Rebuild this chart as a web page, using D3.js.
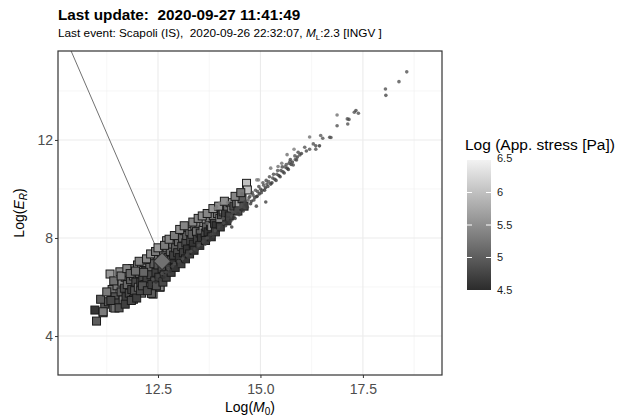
<!DOCTYPE html>
<html>
<head>
<meta charset="utf-8">
<script src="https://cdn.jsdelivr.net/npm/d3@7"></script>
<style>
  body { margin: 0; background: #fff; }
  text { font-family: "Liberation Sans", Arial, sans-serif; }
</style>
</head>
<body>
<div id="chart"></div>
<script>
// big squares: Log(M0), Log(ER), Log(app. stress)
var sqM0 = [10.96, 11.0, 11.16, 11.2, 11.29, 11.33, 11.38, 11.41, 11.45, 11.5, 11.52, 11.57, 11.6, 11.62, 11.65, 11.68, 11.7, 11.72, 11.75, 11.78,
  11.8, 11.83, 11.86, 11.88, 11.9, 11.93, 11.96, 12.0, 12.02, 12.05, 12.08, 12.1, 12.13, 12.16, 12.18, 12.2, 12.23, 12.26, 12.28, 12.3,
  12.33, 12.36, 12.38, 12.4, 12.42, 12.45, 12.48, 12.5, 12.52, 12.55, 12.55, 12.58, 12.6, 12.63, 12.65, 12.68, 12.71, 12.72, 12.75, 12.78,
  12.8, 12.83, 12.86, 12.88, 12.9, 12.93, 12.96, 12.98, 13.0, 13.02, 13.05, 13.08, 13.1, 13.12, 13.15, 13.18, 13.2, 13.22, 13.25, 13.28,
  13.3, 13.33, 13.36, 13.4, 13.44, 13.46, 13.5, 13.53, 13.56, 13.6, 13.62, 13.65, 13.68, 13.72, 13.75, 13.78, 13.81, 13.85, 13.88, 13.92,
  13.95, 14.01, 14.05, 14.09, 14.09, 14.15, 14.2, 14.26, 14.3, 14.35, 14.42, 14.48, 14.55, 14.66, 14.68,
  11.9, 12.1, 12.26, 12.34, 11.45, 11.16, 12.55,
  11.1, 11.25, 11.35, 11.42, 11.55, 11.6, 11.7, 11.74, 11.82, 11.85, 11.95, 11.98, 12.04, 12.07, 12.12, 12.15, 12.22, 12.24, 12.32, 12.35,
  12.44, 12.46, 12.5, 12.62, 12.66, 12.7, 12.77, 12.82, 12.9, 12.92, 13.03, 13.06, 13.14, 13.17, 13.27, 13.35, 13.38, 13.48, 13.52, 13.58,
  13.66, 13.7, 13.8, 13.84, 13.9, 13.98, 14.02, 14.12, 14.18, 14.24, 14.38, 14.45, 14.52, 14.6];
var sqER = [5.06, 4.61, 4.95, 5.3, 5.40, 6.53, 5.9, 5.17, 5.6, 6.05, 5.35, 6.62, 5.8, 6.2, 5.47, 5.95, 6.4, 5.6, 6.1, 6.6,
  5.75, 6.3, 5.9, 6.75, 6.45, 5.85, 6.2, 6.9, 5.99, 6.55, 6.2, 6.85, 6.4, 7.0, 6.1, 6.65, 6.35, 7.1, 5.9, 6.8,
  6.5, 7.2, 5.71, 6.95, 6.25, 6.6, 7.3, 6.9, 6.4, 5.99, 7.51, 7.1, 6.75, 7.35, 6.5, 7.0, 7.89, 7.6, 7.2, 6.85,
  7.45, 7.1, 7.75, 7.3, 6.95, 7.6, 8.05, 7.4, 7.85, 7.2, 8.2, 7.65, 8.0, 7.4, 8.3, 7.8, 8.1, 7.55, 8.45, 8.26,
  7.9, 8.15, 7.75, 8.5, 8.26, 7.95, 8.6, 8.2, 8.0, 8.33, 8.63, 8.2, 8.45, 8.25, 8.75, 8.5, 8.46, 8.9, 8.6, 8.5,
  9.0, 8.8, 8.95, 9.07, 9.14, 9.0, 9.3, 9.44, 9.14, 9.3, 9.42, 9.42, 9.6, 10.23, 9.96,
  5.5, 5.75, 6.01, 5.74, 5.14, 4.99, 6.01,
  5.5, 5.8, 5.45, 6.25, 5.15, 6.45, 5.3, 6.75, 6.55, 5.45, 6.65, 5.55, 7.05, 5.85, 6.05, 6.6, 7.15, 5.85, 7.35, 6.1,
  7.45, 6.05, 7.6, 6.2, 7.7, 6.4, 7.95, 6.6, 8.1, 6.8, 8.35, 6.95, 8.5, 7.15, 7.35, 8.65, 7.5, 8.8, 7.7, 8.9,
  7.9, 9.0, 8.05, 9.2, 8.25, 9.3, 8.45, 9.5, 8.7, 8.9, 9.7, 9.1, 9.85, 9.3];
var sqStress = [4.6, 5.0, 5.1, 4.9, 5.0, 5.6, 5.2, 5.3, 4.9, 5.3, 4.8, 5.5, 5.0, 5.4, 5.3, 4.8, 5.2, 4.7, 5.1, 5.4,
  4.8, 5.0, 4.7, 5.3, 5.2, 4.9, 4.8, 5.4, 5.3, 5.0, 4.7, 5.3, 4.8, 5.5, 4.9, 5.0, 4.7, 5.4, 5.2, 5.1,
  4.8, 5.3, 5.4, 5.0, 4.8, 4.7, 5.3, 4.9, 4.7, 5.5, 5.5, 5.0, 4.8, 5.1, 4.7, 4.8, 5.6, 5.2, 4.9, 4.7,
  5.1, 4.8, 5.2, 4.7, 4.6, 5.0, 5.4, 4.8, 5.1, 4.6, 5.5, 4.9, 5.1, 4.7, 5.4, 4.8, 5.0, 4.6, 5.5, 5.5,
  4.8, 5.0, 4.6, 5.3, 5.2, 4.7, 5.4, 4.9, 4.6, 5.6, 5.6, 4.8, 5.0, 4.6, 5.3, 4.8, 5.5, 5.4, 4.8, 4.6,
  5.2, 5.5, 4.9, 5.6, 5.4, 4.7, 5.2, 5.7, 5.6, 4.8, 5.2, 5.7, 5.0, 6.0, 6.0,
  5.1, 5.2, 5.3, 5.0, 5.2, 5.3, 5.4,
  5.0, 5.3, 4.8, 5.2, 4.9, 5.3, 4.7, 5.4, 5.1, 4.8, 5.2, 4.7, 5.4, 4.8, 4.9, 5.1, 5.4, 4.8, 5.5, 4.7,
  5.3, 4.9, 5.6, 4.8, 5.3, 4.7, 5.4, 4.7, 5.3, 4.6, 5.5, 4.7, 5.4, 4.6, 4.7, 5.4, 4.6, 5.4, 4.7, 5.5,
  4.7, 5.4, 4.6, 5.6, 4.7, 5.5, 4.7, 5.5, 4.6, 4.7, 5.4, 4.8, 5.3, 4.8];

// small dots
var dotM0 = [12.32, 12.38, 12.45, 12.5, 12.55, 12.6, 12.64, 12.7, 12.75, 12.8, 12.85, 12.9, 12.95, 13.0,
  13.05, 13.1, 13.15, 13.2, 13.25, 13.3, 13.35, 13.4, 13.45, 13.5, 13.55, 13.6, 13.65, 13.7, 13.75, 13.8, 13.85, 13.89, 13.9, 13.93, 13.95, 14.0, 14.01,
  14.05, 14.09, 14.1, 14.15, 14.2, 14.25, 14.3, 14.35, 14.4, 14.45, 14.5, 14.55, 14.6, 14.65, 14.7, 14.74, 14.78, 14.82, 14.86, 14.9, 14.91, 14.93, 14.95, 14.97,
  15.0, 15.04, 15.08, 15.12, 15.13, 15.16, 15.2, 15.25, 15.3, 15.35, 15.4, 15.43, 15.45, 15.5, 15.52, 15.55, 15.6, 15.65, 15.7, 15.72, 15.75, 15.8, 15.82, 15.85, 15.88, 15.9, 15.96,
  16.2, 16.2, 16.29, 16.35, 16.35, 16.44, 16.47, 16.52, 16.69, 16.72, 16.87, 16.87, 17.12, 17.16, 17.13, 17.29, 17.33, 17.39, 18.05, 18.06, 18.38, 18.57,
  14.22, 14.28, 14.33, 14.38, 14.43, 14.48, 14.53, 14.58, 14.63, 14.68, 14.72, 14.76, 14.8, 14.84, 14.88, 14.92, 14.96, 15.02, 15.06, 15.1,
  15.14, 15.18, 15.22, 15.28, 15.32, 15.38, 15.42, 15.48, 15.53, 15.58, 15.63, 15.68, 15.73, 15.78, 15.84, 15.92, 16.0, 16.08, 16.12,
  13.5, 13.7, 14.2, 14.55, 15.25, 15.65, 14.3, 14.9];
var dotER = [6.1, 6.3, 6.2, 6.45, 6.3, 6.55, 6.4, 6.6, 6.75, 6.65, 6.85, 6.95, 6.8, 7.05,
  6.95, 7.15, 7.05, 7.3, 7.2, 7.45, 7.35, 7.55, 7.5, 7.7, 7.6, 7.85, 7.75, 8.0, 7.9, 8.15, 8.05, 9.21, 8.3, 9.28, 8.2, 8.45, 9.42,
  8.4, 8.8, 8.6, 8.5, 8.75, 8.65, 8.9, 8.85, 9.1, 9.0, 9.25, 9.15, 9.4, 9.35, 9.55, 9.69, 9.5, 9.75, 9.65, 9.69, 10.37, 9.9, 10.37, 9.8,
  10.0, 9.95, 10.15, 10.05, 9.47, 10.2, 10.3, 10.2, 10.45, 10.4, 10.6, 10.92, 10.55, 10.75, 11.05, 10.7, 10.9, 10.85, 11.05, 11.12, 11.0, 10.98, 11.62, 11.2, 11.18, 11.3, 11.39,
  11.62, 12.12, 11.84, 11.76, 11.62, 11.76, 12.18, 12.07, 12.11, 12.1, 13.02, 12.58, 12.86, 12.84, 12.65, 13.13, 13.2, 13.09, 14.08, 13.82, 14.38, 14.78,
  8.95, 8.7, 9.05, 8.8, 9.2, 8.95, 9.35, 9.1, 9.5, 9.25, 9.65, 9.4, 9.85, 9.55, 9.95, 9.7, 10.1, 9.85, 10.25, 9.95,
  10.35, 10.1, 10.5, 10.25, 10.6, 10.35, 10.75, 10.5, 10.9, 10.65, 11.0, 10.8, 11.2, 11.1, 11.35, 11.5, 11.45, 11.7, 11.55,
  8.25, 8.6, 9.45, 9.8, 10.85, 11.4, 8.45, 9.3];
var dotStress = [4.7, 4.9, 4.6, 4.8, 4.7, 4.9, 4.6, 4.8, 4.9, 4.6, 4.8, 4.9, 4.6, 4.8,
  4.7, 4.9, 4.6, 4.8, 4.7, 4.9, 4.6, 4.8, 4.7, 4.9, 4.6, 4.8, 4.7, 4.9, 4.6, 4.8, 4.7, 5.4, 4.9, 5.3, 4.6, 4.8, 5.4,
  4.7, 5.0, 4.9, 4.6, 4.8, 4.7, 4.9, 4.6, 4.8, 4.7, 4.9, 4.6, 4.8, 4.7, 4.9, 4.8, 4.6, 4.8, 4.7, 4.9, 5.4, 4.8, 5.3, 4.6,
  4.8, 4.7, 4.9, 4.6, 4.7, 4.8, 4.9, 4.6, 4.8, 4.7, 4.9, 5.2, 4.6, 4.8, 5.2, 4.7, 4.9, 4.6, 4.8, 5.0, 4.7, 4.8, 5.3, 4.9, 4.8, 4.7, 4.8,
  4.9, 5.2, 4.9, 4.8, 4.9, 4.6, 5.0, 4.9, 4.8, 4.9, 5.2, 4.9, 4.9, 4.8, 4.9, 4.9, 4.8, 4.9, 4.9, 4.8, 4.9, 4.9,
  4.8, 4.7, 4.9, 4.6, 4.8, 4.7, 4.9, 4.6, 4.8, 4.7, 4.9, 4.6, 4.8, 4.7, 4.9, 4.6, 4.8, 4.7, 4.9, 4.6,
  4.8, 4.7, 4.9, 4.6, 4.8, 4.7, 4.9, 4.6, 4.8, 4.7, 4.9, 4.6, 4.8, 4.7, 4.9, 4.8, 4.7, 4.9, 4.8,
  5.1, 5.2, 5.3, 5.2, 5.2, 5.2, 4.6, 4.7];

// last event
var lastM0 = 12.6, lastER = 7.05, lastStress = 5.2;
var labelM0 = 10.38, labelER = 15.63;

var xTicks = [12.5, 15.0, 17.5];
var yTicks = [4, 8, 12];
var xMinor = [11.25, 13.75, 16.25, 18.75];
var yMinor = [6, 10, 14];
var legendTicks = [4.5, 5, 5.5, 6, 6.5];

var W = 621, H = 418;
var margin = { top: 51, left: 58, right: 179, bottom: 43 };
var width = W - margin.left - margin.right,
    height = H - margin.top - margin.bottom;

var svg = d3.select("#chart").append("svg")
    .attr("width", W)
    .attr("height", H);

var x = d3.scaleLinear().domain([10.06, 19.43]).range([0, width]);
var y = d3.scaleLinear().domain([2.41, 15.63]).range([height, 0]);
var color = d3.scaleLinear().domain([4.5, 6.5])
    .range(["#2b2b2b", "#f2f2f2"]).clamp(true);

var g = svg.append("g")
    .attr("transform", "translate(" + margin.left + "," + margin.top + ")");

g.append("clipPath").attr("id", "clip")
  .append("rect").attr("width", width).attr("height", height);

// grid
g.selectAll(".xminor").data(xMinor).enter().append("line")
    .attr("x1", d => x(d)).attr("x2", d => x(d))
    .attr("y1", 0).attr("y2", height)
    .attr("stroke", "#f0f0f0").attr("stroke-width", 0.6);
g.selectAll(".yminor").data(yMinor).enter().append("line")
    .attr("y1", d => y(d)).attr("y2", d => y(d))
    .attr("x1", 0).attr("x2", width)
    .attr("stroke", "#f0f0f0").attr("stroke-width", 0.6);
g.selectAll(".xmajor").data(xTicks).enter().append("line")
    .attr("x1", d => x(d)).attr("x2", d => x(d))
    .attr("y1", 0).attr("y2", height)
    .attr("stroke", "#ebebeb").attr("stroke-width", 1.1);
g.selectAll(".ymajor").data(yTicks).enter().append("line")
    .attr("y1", d => y(d)).attr("y2", d => y(d))
    .attr("x1", 0).attr("x2", width)
    .attr("stroke", "#ebebeb").attr("stroke-width", 1.1);

var plot = g.append("g").attr("clip-path", "url(#clip)");

// pointer line to the last event
plot.append("line")
    .attr("x1", x(labelM0)).attr("y1", y(labelER))
    .attr("x2", x(lastM0)).attr("y2", y(lastER))
    .attr("stroke", "#333").attr("stroke-width", 0.7);

var sq = 8;
plot.selectAll(".sq").data(sqM0).enter().append("rect")
    .attr("x", (d, i) => x(d) - sq / 2)
    .attr("y", (d, i) => y(sqER[i]) - sq / 2)
    .attr("width", sq).attr("height", sq)
    .attr("fill", (d, i) => color(sqStress[i]))
    .attr("stroke", "#1a1a1a").attr("stroke-width", 1);

plot.selectAll(".dot").data(dotM0).enter().append("circle")
    .attr("cx", d => x(d))
    .attr("cy", (d, i) => y(dotER[i]))
    .attr("r", 1.8)
    .attr("fill", (d, i) => color(dotStress[i]))
    .attr("opacity", 0.8);

// last event marker
plot.append("rect")
    .attr("x", -6).attr("y", -6).attr("width", 12).attr("height", 12)
    .attr("transform", "translate(" + x(lastM0) + "," + y(lastER) + ") rotate(45)")
    .attr("fill", color(lastStress))
    .attr("stroke", "#333").attr("stroke-width", 1);

// panel border
g.append("rect").attr("width", width).attr("height", height)
    .attr("fill", "none").attr("stroke", "#333").attr("stroke-width", 1.2);

// axes
var xAxis = g.append("g")
    .attr("transform", "translate(0," + height + ")")
    .call(d3.axisBottom(x).tickValues(xTicks).tickFormat(d3.format(".1f")).tickSizeInner(3).tickSizeOuter(0));
var yAxis = g.append("g")
    .call(d3.axisLeft(y).tickValues(yTicks).tickSizeInner(3).tickSizeOuter(0));
[xAxis, yAxis].forEach(a => {
  a.select(".domain").remove();
  a.selectAll("line").attr("stroke", "#333");
  a.selectAll("text").attr("fill", "#4d4d4d").style("font-size", "14px")
    .style("font-family", "Liberation Sans, Arial, sans-serif");
});
xAxis.selectAll("text").attr("dy", "0.95em");
yAxis.selectAll("text").attr("x", -5);

// axis titles
var xt = svg.append("text")
    .attr("x", margin.left + width / 2).attr("y", 412)
    .attr("text-anchor", "middle").style("font-size", "14px");
xt.append("tspan").text("Log(");
xt.append("tspan").attr("font-style", "italic").text("M");
xt.append("tspan").attr("font-size", "10px").attr("dy", 3).text("0");
xt.append("tspan").attr("dy", -3).text(")");

var yt = svg.append("text")
    .attr("transform", "translate(24," + (margin.top + height / 2) + ") rotate(-90)")
    .attr("text-anchor", "middle").style("font-size", "14px");
yt.append("tspan").text("Log(");
yt.append("tspan").attr("font-style", "italic").text("E");
yt.append("tspan").attr("font-style", "italic").attr("font-size", "10px").attr("dy", 3).text("R");
yt.append("tspan").attr("dy", -3).text(")");

// titles
svg.append("text").attr("x", 58).attr("y", 20)
    .style("font-size", "15.3px").style("font-weight", "bold")
    .attr("xml:space", "preserve")
    .text("Last update:  2020-09-27 11:41:49");
var st = svg.append("text").attr("x", 58).attr("y", 37)
    .style("font-size", "11.8px").attr("xml:space", "preserve");
st.append("tspan").text("Last event: Scapoli (IS),  2020-09-26 22:32:07, ");
st.append("tspan").attr("font-style", "italic").text("M");
st.append("tspan").attr("font-size", "8px").attr("dy", 3).text("L");
st.append("tspan").attr("dy", -3).text(":2.3 [INGV ]");

// colour legend
var legX = 467, legW = 24, legTop = 160, legBottom = 290;
var ly = d3.scaleLinear().domain([4.5, 6.5]).range([legBottom, legTop]);
var grad = svg.append("defs").append("linearGradient")
    .attr("id", "grad").attr("x1", 0).attr("y1", 1).attr("x2", 0).attr("y2", 0);
grad.selectAll("stop").data(legendTicks).enter().append("stop")
    .attr("offset", (d, i) => i / (legendTicks.length - 1))
    .attr("stop-color", d => color(d));
svg.append("rect").attr("x", legX).attr("y", legTop)
    .attr("width", legW).attr("height", legBottom - legTop)
    .attr("fill", "url(#grad)");
svg.selectAll(".ltick").data(legendTicks.slice(1, -1)).enter().append("g")
    .each(function(d) {
      d3.select(this).append("line")
        .attr("x1", legX).attr("x2", legX + 5)
        .attr("y1", ly(d)).attr("y2", ly(d)).attr("stroke", "#fff");
      d3.select(this).append("line")
        .attr("x1", legX + legW - 5).attr("x2", legX + legW)
        .attr("y1", ly(d)).attr("y2", ly(d)).attr("stroke", "#fff");
    });
svg.selectAll(".llab").data(legendTicks).enter().append("text")
    .attr("x", legX + legW + 6)
    .attr("y", d => d === 6.5 ? ly(d) - 2 : ly(d))
    .attr("dy", "0.35em")
    .style("font-size", "11px").attr("fill", "#1a1a1a")
    .text(d => d);
svg.append("text").attr("x", 465).attr("y", 150)
    .style("font-size", "15.5px")
    .text("Log (App. stress [Pa])");
</script>
</body>
</html>
